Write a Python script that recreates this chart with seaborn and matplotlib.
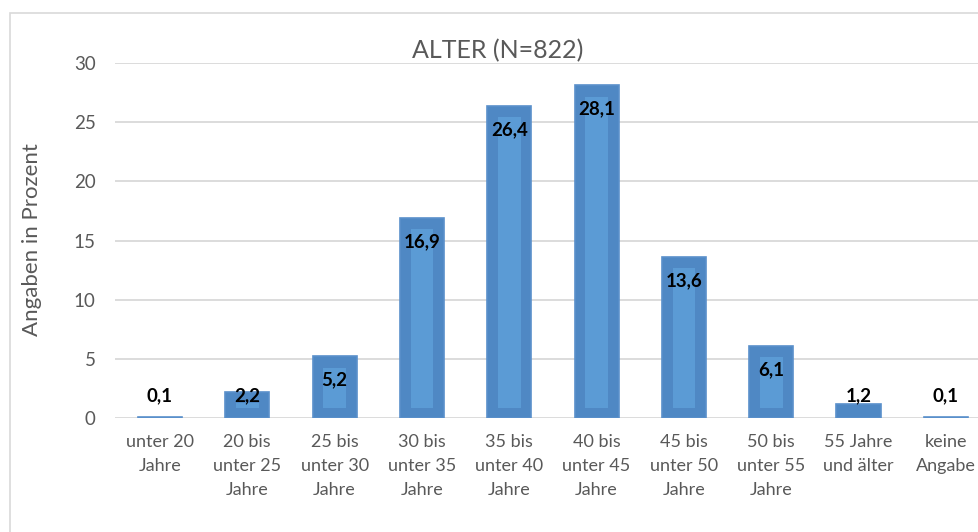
import matplotlib
matplotlib.use("Agg")
import matplotlib.pyplot as plt
import seaborn as sns
import pandas as pd
from matplotlib.patches import Rectangle

categories = ["unter 20\nJahre", "20 bis\nunter 25\nJahre", "25 bis\nunter 30\nJahre",
              "30 bis\nunter 35\nJahre", "35 bis\nunter 40\nJahre", "40 bis\nunter 45\nJahre",
              "45 bis\nunter 50\nJahre", "50 bis\nunter 55\nJahre", "55 Jahre\nund älter",
              "keine\nAngabe"]
values = [0.1, 2.2, 5.2, 16.9, 26.4, 28.1, 13.6, 6.1, 1.2, 0.1]
labels = ["0,1", "2,2", "5,2", "16,9", "26,4", "28,1", "13,6", "6,1", "1,2", "0,1"]
title = "ALTER (N=822)"
ylabel = "Angaben in Prozent"
yticks = [0, 5, 10, 15, 20, 25, 30]

sns.set_theme(style="white")
plt.rcParams['font.family'] = ['Lato', 'DejaVu Sans']

df = pd.DataFrame({"cat": categories, "val": values})

fig = plt.figure(figsize=(9.79, 5.32), dpi=100)
ax = fig.add_axes([115/979, 114/532, 1 - 115/979, (469 - 114)/532])

outer = "#4f88c4"
inner = "#5b9bd5"
grey = "#595959"

sns.barplot(data=df, x="cat", y="val", color=outer, saturation=1, width=0.505,
            edgecolor="#5a90cb", linewidth=1.2, ax=ax, zorder=3)

# inner lighter panel (Excel-like inset fill)
inset_b = 0.85
inset_t = 0.95
inner_h = [max(v - inset_b - inset_t, 0) for v in values]
ax.bar(range(len(values)), inner_h, bottom=inset_b, width=0.26, color=inner,
       linewidth=0, zorder=4)

for i, (v, lab) in enumerate(zip(values, labels)):
    y = max(v - 2.0, 1.85)
    ax.text(i, y, lab, ha="center", va="center", fontsize=13.5,
            fontweight="bold", color="black", zorder=6)

ax.set_ylim(0, 30)
ax.set_xlim(-0.515, 9.38)
ax.set_yticks(yticks)
ax.set_yticklabels([str(t) for t in yticks])
ax.yaxis.grid(True, color="#d9d9d9", linewidth=1.3, zorder=0)
ax.set_axisbelow(True)
for s in ax.spines.values():
    s.set_visible(False)
ax.tick_params(axis="both", length=0, labelsize=13, colors=grey)
ax.tick_params(axis="y", pad=14, labelsize=13.5)
ax.tick_params(axis="x", pad=11.5)
plt.setp(ax.get_xticklabels(), linespacing=1.6)
ax.set_xlabel("")
ax.set_ylabel("")

fig.text(498/979, 1 - 51/532, title, ha="center", va="center", fontsize=18,
         color=grey)
fig.text(32/979, 1 - 240/532, ylabel, ha="center", va="center", rotation=90,
         fontsize=16, color=grey)

fig.patches.append(Rectangle((10/979, -0.1), 1.2, 1 - 13/532 + 0.1,
                             transform=fig.transFigure, fill=False,
                             edgecolor="#d9d9d9", linewidth=1.2, zorder=0))

fig.savefig("out.png", dpi=100)
